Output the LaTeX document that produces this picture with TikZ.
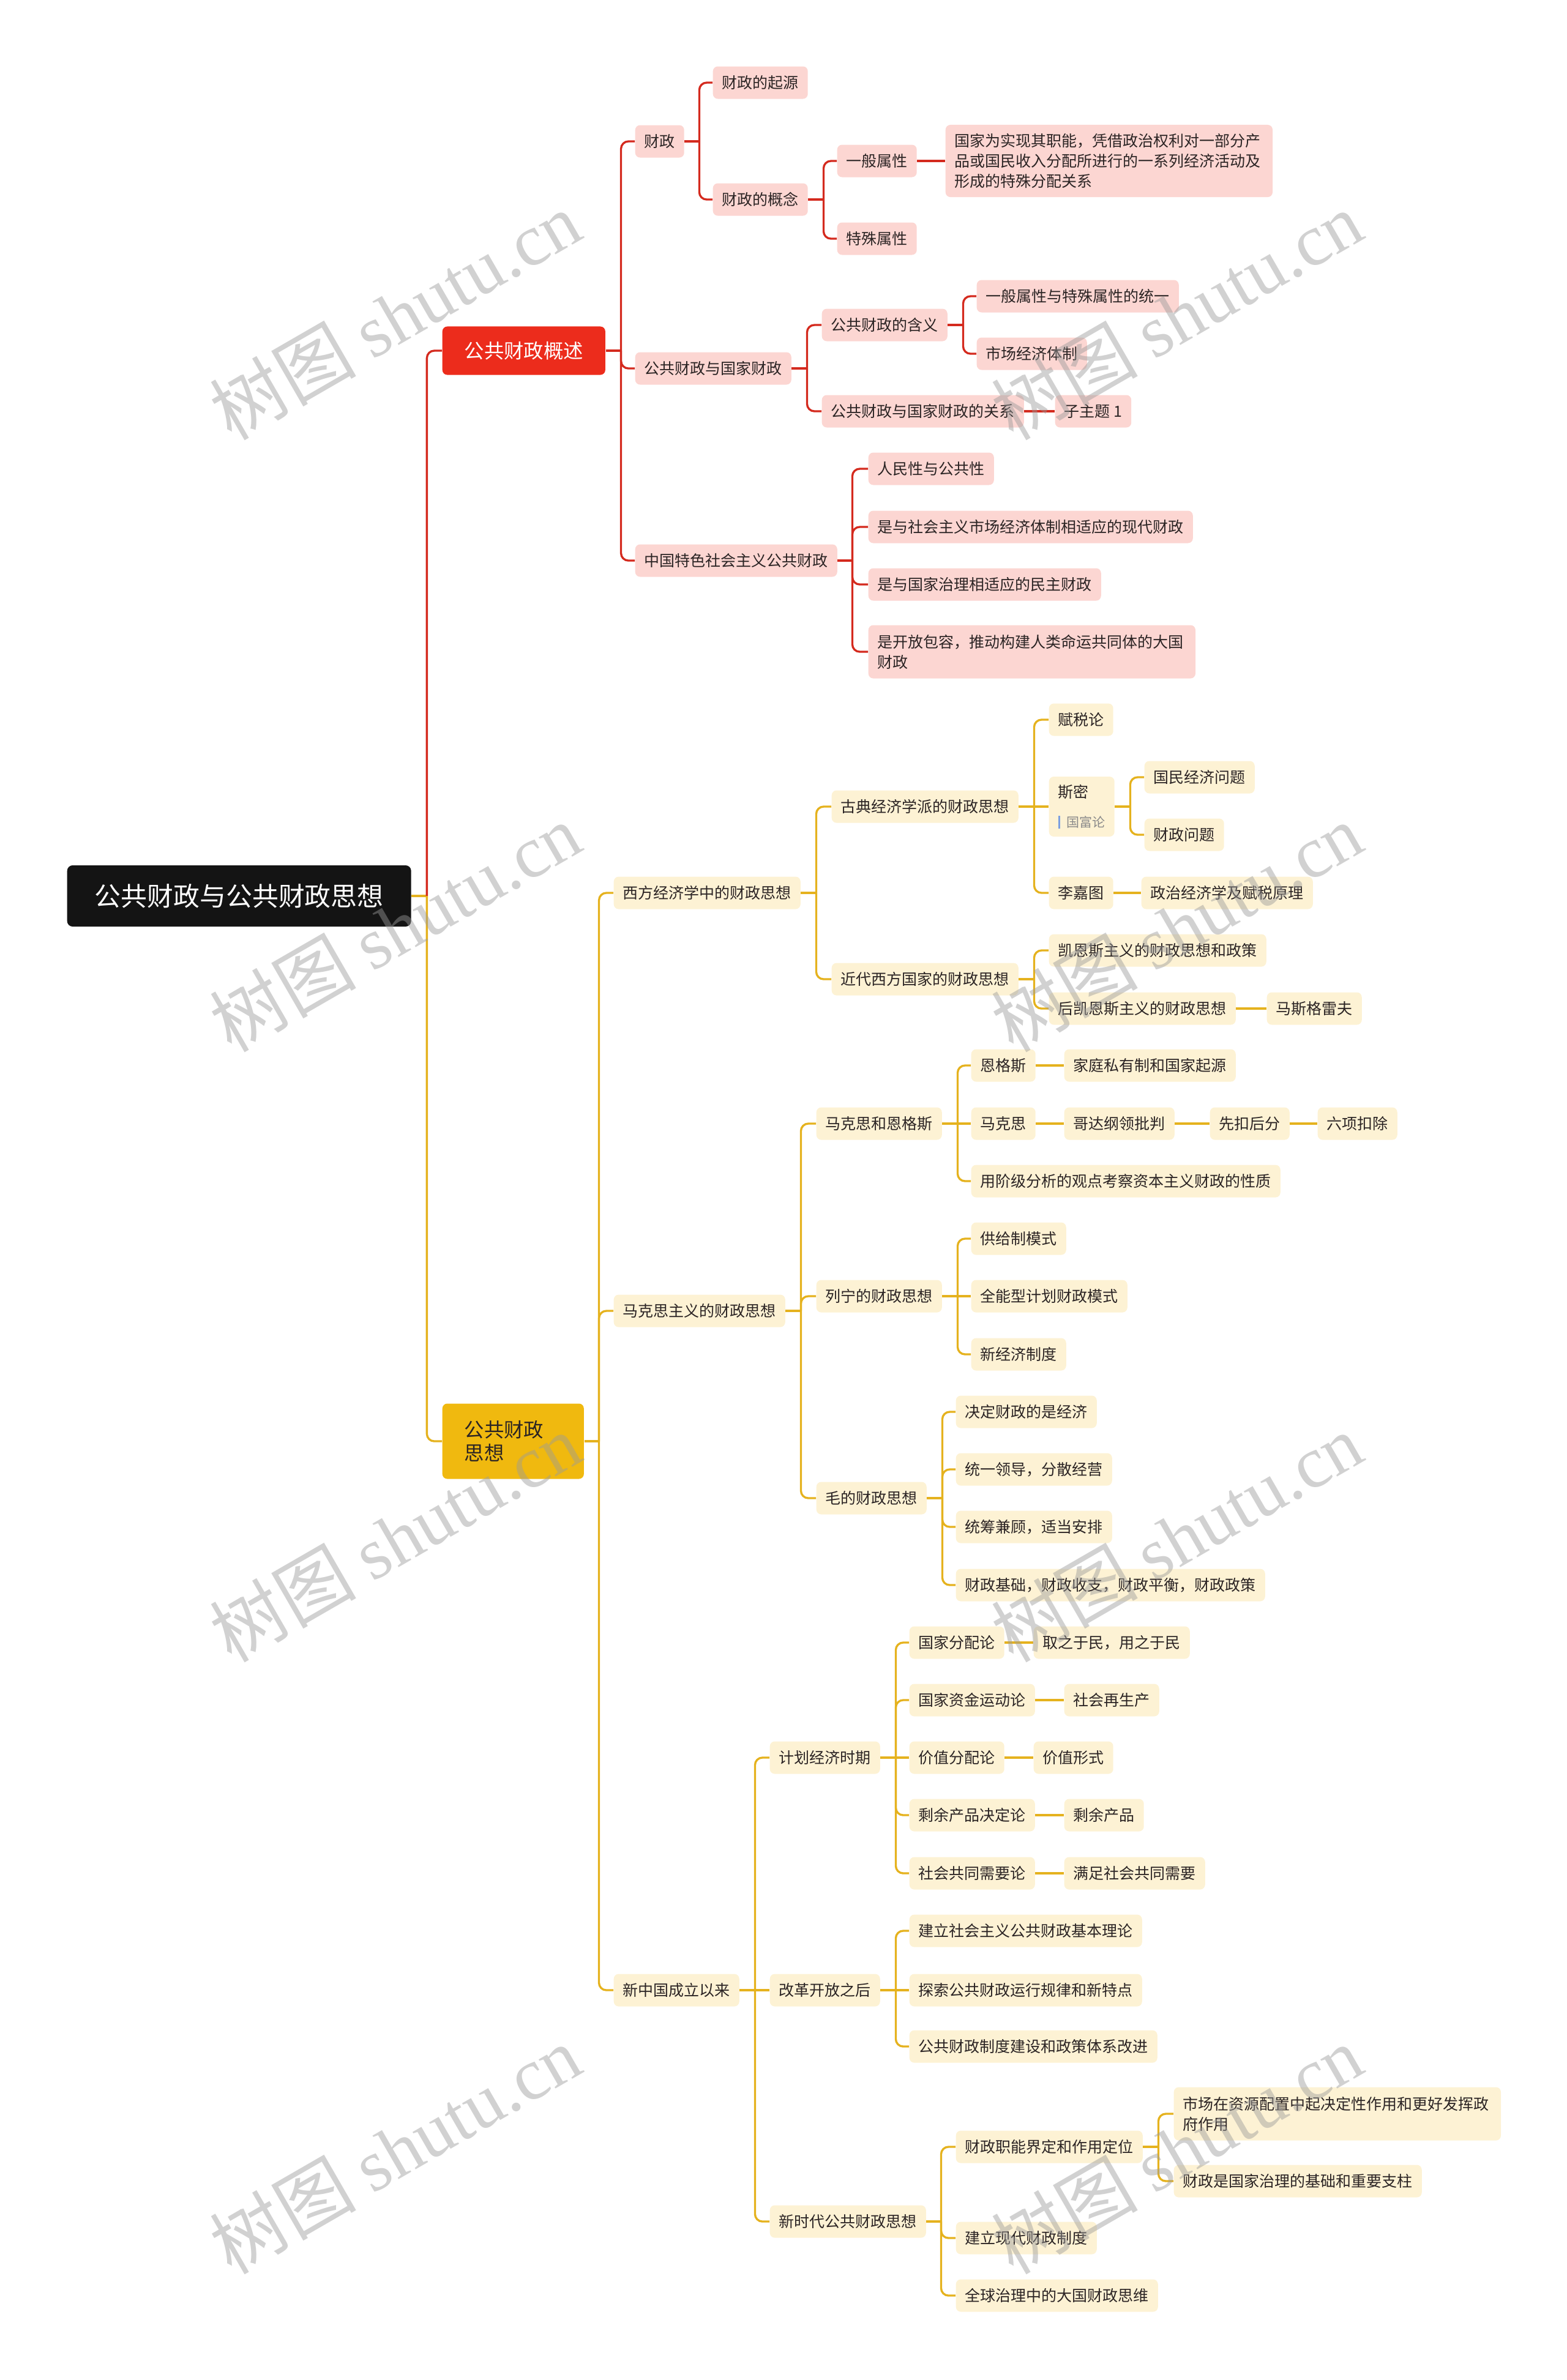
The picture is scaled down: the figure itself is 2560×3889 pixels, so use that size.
\documentclass[tikz,border=0pt]{standalone}
\usepackage{fontspec}
\setmainfont{Noto Sans CJK SC}
\newfontfamily\wmfont{Liberation Serif}
\usepackage{xcolor}
\usetikzlibrary{calc}
\definecolor{rootblack}{HTML}{141414}
\definecolor{topicred}{HTML}{EC2C1C}
\definecolor{linkred}{HTML}{D42A1E}
\definecolor{leafpink}{HTML}{FCD6D2}
\definecolor{topicyellow}{HTML}{F0B90F}
\definecolor{linkyellow}{HTML}{E5B21E}
\definecolor{leafcream}{HTML}{FDF2D4}
\definecolor{textdark}{HTML}{2B2424}
\definecolor{notebar}{HTML}{7B9FE0}
\definecolor{notegray}{HTML}{8A8A8A}
\definecolor{wmgray}{HTML}{9A9A9A}
\tikzset{%
    root box/.style={anchor=west,fill=rootblack,text=white,rounded corners=0.09cm,inner xsep=0.45cm,inner ysep=0pt,minimum height=1.0cm,font=\fontsize{12.2pt}{14pt}\selectfont},
    red topic/.style={anchor=west,fill=topicred,text=white,rounded corners=0.08cm,inner xsep=0.36cm,inner ysep=0pt,minimum height=0.79cm,font=\fontsize{9.2pt}{10.8pt}\selectfont},
    yellow topic/.style={anchor=west,fill=topicyellow,text=textdark,rounded corners=0.08cm,inner xsep=0.36cm,inner ysep=0pt,minimum height=1.23cm,text width=1.59cm,align=left,font=\fontsize{9.2pt}{10.8pt}\selectfont},
    leaf/.style={anchor=west,rounded corners=0.08cm,inner xsep=0.15cm,inner ysep=0pt,minimum height=0.53cm,text=textdark,font=\fontsize{7.11pt}{9.4pt}\selectfont},
    red leaf/.style={leaf,fill=leafpink},
    yellow leaf/.style={leaf,fill=leafcream},
    red link/.style={draw=linkred,line width=0.95pt,rounded corners=0.12cm},
    yellow link/.style={draw=linkyellow,line width=0.95pt,rounded corners=0.12cm},
    watermark/.style={rotate=30,text=wmgray,text opacity=0.45,font=\fontsize{34pt}{34pt}\selectfont},
}

\begin{document}
\begin{tikzpicture}[x=0.01cm,y=-0.01cm]
      \useasboundingbox (0,0) rectangle (2560,3889);

      % root and the two main topics
      \node[root box] (root) at (109,1464) {公共财政与公共财政思想};
      \node[red topic] (gs) at (722,573) {公共财政概述};
      \node[yellow topic] (sx) at (722,2355) {公共财政\\思想};

      % 公共财政概述
      \node[red leaf] (gs1) at (1037,231) {财政};
      \node[red leaf] (gs11) at (1164,135) {财政的起源};
      \node[red leaf] (gs12) at (1164,326) {财政的概念};
      \node[red leaf] (gs121) at (1367,263) {一般属性};
      \node[red leaf] (gs122) at (1367,390) {特殊属性};
      \node[red leaf,text width=5.04cm,align=left,minimum height=1.18cm] (gs1211) at (1544,263) {国家为实现其职能，凭借政治权利对一部分产\\品或国民收入分配所进行的一系列经济活动及\\形成的特殊分配关系};
      \node[red leaf] (gs2) at (1037,602) {公共财政与国家财政};
      \node[red leaf] (gs21) at (1342,531) {公共财政的含义};
      \node[red leaf] (gs211) at (1595,484) {一般属性与特殊属性的统一};
      \node[red leaf] (gs212) at (1595,578) {市场经济体制};
      \node[red leaf] (gs22) at (1342,672) {公共财政与国家财政的关系};
      \node[red leaf] (gs221) at (1723,672) {子主题 1};
      \node[red leaf] (gs3) at (1037,916) {中国特色社会主义公共财政};
      \node[red leaf] (gs31) at (1418,766) {人民性与公共性};
      \node[red leaf] (gs32) at (1418,861) {是与社会主义市场经济体制相适应的现代财政};
      \node[red leaf] (gs33) at (1418,955) {是与国家治理相适应的民主财政};
      \node[red leaf,text width=5.04cm,align=left,minimum height=0.87cm] (gs34) at (1418,1065) {是开放包容，推动构建人类命运共同体的大国\\财政};

      % 西方经济学
      \node[yellow leaf] (sx1) at (1002,1459) {西方经济学中的财政思想};
      \node[yellow leaf] (sx11) at (1358,1318) {古典经济学派的财政思想};
      \node[yellow leaf] (sx111) at (1713,1176) {赋税论};
      \node[yellow leaf,align=left,minimum height=0.98cm] (sx112) at (1713,1318) {斯密\\[0.15cm]{\color{notebar}\rule[-0.025cm]{0.03cm}{0.21cm}}\hspace{0.11cm}{\fontsize{5.97pt}{7pt}\selectfont\color{notegray}国富论}};
      \node[yellow leaf] (sx1121) at (1869,1270) {国民经济问题};
      \node[yellow leaf] (sx1122) at (1869,1364) {财政问题};
      \node[yellow leaf] (sx113) at (1713,1459) {李嘉图};
      \node[yellow leaf] (sx1131) at (1864,1459) {政治经济学及赋税原理};
      \node[yellow leaf] (sx12) at (1358,1600) {近代西方国家的财政思想};
      \node[yellow leaf] (sx121) at (1713,1553) {凯恩斯主义的财政思想和政策};
      \node[yellow leaf] (sx122) at (1713,1648) {后凯恩斯主义的财政思想};
      \node[yellow leaf] (sx1221) at (2069,1648) {马斯格雷夫};

      % 马克思主义
      \node[yellow leaf] (sx2) at (1002,2142) {马克思主义的财政思想};
      \node[yellow leaf] (sx21) at (1333,1836) {马克思和恩格斯};
      \node[yellow leaf] (sx211) at (1586,1741) {恩格斯};
      \node[yellow leaf] (sx2111) at (1738,1741) {家庭私有制和国家起源};
      \node[yellow leaf] (sx212) at (1586,1836) {马克思};
      \node[yellow leaf] (sx2121) at (1738,1836) {哥达纲领批判};
      \node[yellow leaf] (sx2122) at (1976,1836) {先扣后分};
      \node[yellow leaf] (sx2123) at (2152,1836) {六项扣除};
      \node[yellow leaf] (sx213) at (1586,1930) {用阶级分析的观点考察资本主义财政的性质};
      \node[yellow leaf] (sx22) at (1333,2118) {列宁的财政思想};
      \node[yellow leaf] (sx221) at (1586,2024) {供给制模式};
      \node[yellow leaf] (sx222) at (1586,2118) {全能型计划财政模式};
      \node[yellow leaf] (sx223) at (1586,2213) {新经济制度};
      \node[yellow leaf] (sx23) at (1333,2448) {毛的财政思想};
      \node[yellow leaf] (sx231) at (1561,2307) {决定财政的是经济};
      \node[yellow leaf] (sx232) at (1561,2401) {统一领导，分散经营};
      \node[yellow leaf] (sx233) at (1561,2495) {统筹兼顾，适当安排};
      \node[yellow leaf] (sx234) at (1561,2590) {财政基础，财政收支，财政平衡，财政政策};

      % 新中国
      \node[yellow leaf] (sx3) at (1002,3252) {新中国成立以来};
      \node[yellow leaf] (sx31) at (1257,2872) {计划经济时期};
      \node[yellow leaf] (sx311) at (1485,2684) {国家分配论};
      \node[yellow leaf] (sx3111) at (1688,2684) {取之于民，用之于民};
      \node[yellow leaf] (sx312) at (1485,2778) {国家资金运动论};
      \node[yellow leaf] (sx3121) at (1738,2778) {社会再生产};
      \node[yellow leaf] (sx313) at (1485,2872) {价值分配论};
      \node[yellow leaf] (sx3131) at (1688,2872) {价值形式};
      \node[yellow leaf] (sx314) at (1485,2966) {剩余产品决定论};
      \node[yellow leaf] (sx3141) at (1738,2966) {剩余产品};
      \node[yellow leaf] (sx315) at (1485,3061) {社会共同需要论};
      \node[yellow leaf] (sx3151) at (1738,3061) {满足社会共同需要};
      \node[yellow leaf] (sx32) at (1257,3252) {改革开放之后};
      \node[yellow leaf] (sx321) at (1485,3155) {建立社会主义公共财政基本理论};
      \node[yellow leaf] (sx322) at (1485,3252) {探索公共财政运行规律和新特点};
      \node[yellow leaf] (sx323) at (1485,3344) {公共财政制度建设和政策体系改进};
      \node[yellow leaf] (sx33) at (1257,3630) {新时代公共财政思想};
      \node[yellow leaf] (sx331) at (1561,3508) {财政职能界定和作用定位};
      \node[yellow leaf,text width=5.04cm,align=left,minimum height=0.87cm] (sx3311) at (1917,3454) {市场在资源配置中起决定性作用和更好发挥政\\府作用};
      \node[yellow leaf] (sx3312) at (1917,3564) {财政是国家治理的基础和重要支柱};
      \node[yellow leaf] (sx332) at (1561,3657) {建立现代财政制度};
      \node[yellow leaf] (sx333) at (1561,3751) {全球治理中的大国财政思维};

      % connectors, red side
      \draw[yellow link] (root.east) -- ++(25,0) coordinate (root-t);
      \draw[red link] (root-t) |- (gs.west);
      \draw[yellow link] (root-t) |- (sx.west);
      \draw[red link] (gs.east) -- ++(25,0) coordinate (gs-t);
      \draw[red link] (gs-t) |- (gs1.west);
      \draw[red link] (gs-t) |- (gs2.west);
      \draw[red link] (gs-t) |- (gs3.west);
      \draw[red link] (gs1.east) -- ++(24,0) coordinate (gs1-t);
      \draw[red link] (gs1-t) |- (gs11.west);
      \draw[red link] (gs1-t) |- (gs12.west);
      \draw[red link] (gs12.east) -- ++(25,0) coordinate (gs12-t);
      \draw[red link] (gs12-t) |- (gs121.west);
      \draw[red link] (gs12-t) |- (gs122.west);
      \draw[red link] (gs121.east) -- (gs1211.west);
      \draw[red link] (gs2.east) -- ++(25,0) coordinate (gs2-t);
      \draw[red link] (gs2-t) |- (gs21.west);
      \draw[red link] (gs2-t) |- (gs22.west);
      \draw[red link] (gs21.east) -- ++(25,0) coordinate (gs21-t);
      \draw[red link] (gs21-t) |- (gs211.west);
      \draw[red link] (gs21-t) |- (gs212.west);
      \draw[red link] (gs22.east) -- (gs221.west);
      \draw[red link] (gs3.east) -- ++(24,0) coordinate (gs3-t);
      \draw[red link] (gs3-t) |- (gs31.west);
      \draw[red link] (gs3-t) |- (gs32.west);
      \draw[red link] (gs3-t) |- (gs33.west);
      \draw[red link] (gs3-t) |- (gs34.west);

      % connectors, yellow side
      \draw[yellow link] (sx.east) -- ++(24,0) coordinate (sx-t);
      \draw[yellow link] (sx-t) |- (sx1.west);
      \draw[yellow link] (sx-t) |- (sx2.west);
      \draw[yellow link] (sx-t) |- (sx3.west);
      \draw[yellow link] (sx1.east) -- ++(25,0) coordinate (sx1-t);
      \draw[yellow link] (sx1-t) |- (sx11.west);
      \draw[yellow link] (sx1-t) |- (sx12.west);
      \draw[yellow link] (sx11.east) -- ++(25,0) coordinate (sx11-t);
      \draw[yellow link] (sx11-t) |- (sx111.west);
      \draw[yellow link] (sx11-t) -- (sx112.west);
      \draw[yellow link] (sx11-t) |- (sx113.west);
      \draw[yellow link] (sx112.east) -- ++(25,0) coordinate (sx112-t);
      \draw[yellow link] (sx112-t) |- (sx1121.west);
      \draw[yellow link] (sx112-t) |- (sx1122.west);
      \draw[yellow link] (sx113.east) -- (sx1131.west);
      \draw[yellow link] (sx12.east) -- ++(25,0) coordinate (sx12-t);
      \draw[yellow link] (sx12-t) |- (sx121.west);
      \draw[yellow link] (sx12-t) |- (sx122.west);
      \draw[yellow link] (sx122.east) -- (sx1221.west);
      \draw[yellow link] (sx2.east) -- ++(25,0) coordinate (sx2-t);
      \draw[yellow link] (sx2-t) |- (sx21.west);
      \draw[yellow link] (sx2-t) |- (sx22.west);
      \draw[yellow link] (sx2-t) |- (sx23.west);
      \draw[yellow link] (sx21.east) -- ++(25,0) coordinate (sx21-t);
      \draw[yellow link] (sx21-t) |- (sx211.west);
      \draw[yellow link] (sx21-t) -- (sx212.west);
      \draw[yellow link] (sx21-t) |- (sx213.west);
      \draw[yellow link] (sx211.east) -- (sx2111.west);
      \draw[yellow link] (sx212.east) -- (sx2121.west);
      \draw[yellow link] (sx2121.east) -- (sx2122.west);
      \draw[yellow link] (sx2122.east) -- (sx2123.west);
      \draw[yellow link] (sx22.east) -- ++(25,0) coordinate (sx22-t);
      \draw[yellow link] (sx22-t) |- (sx221.west);
      \draw[yellow link] (sx22-t) -- (sx222.west);
      \draw[yellow link] (sx22-t) |- (sx223.west);
      \draw[yellow link] (sx23.east) -- ++(25,0) coordinate (sx23-t);
      \draw[yellow link] (sx23-t) |- (sx231.west);
      \draw[yellow link] (sx23-t) |- (sx232.west);
      \draw[yellow link] (sx23-t) |- (sx233.west);
      \draw[yellow link] (sx23-t) |- (sx234.west);
      \draw[yellow link] (sx3.east) -- ++(25,0) coordinate (sx3-t);
      \draw[yellow link] (sx3-t) |- (sx31.west);
      \draw[yellow link] (sx3-t) -- (sx32.west);
      \draw[yellow link] (sx3-t) |- (sx33.west);
      \draw[yellow link] (sx31.east) -- ++(25,0) coordinate (sx31-t);
      \draw[yellow link] (sx31-t) |- (sx311.west);
      \draw[yellow link] (sx31-t) |- (sx312.west);
      \draw[yellow link] (sx31-t) -- (sx313.west);
      \draw[yellow link] (sx31-t) |- (sx314.west);
      \draw[yellow link] (sx31-t) |- (sx315.west);
      \draw[yellow link] (sx311.east) -- (sx3111.west);
      \draw[yellow link] (sx312.east) -- (sx3121.west);
      \draw[yellow link] (sx313.east) -- (sx3131.west);
      \draw[yellow link] (sx314.east) -- (sx3141.west);
      \draw[yellow link] (sx315.east) -- (sx3151.west);
      \draw[yellow link] (sx32.east) -- ++(25,0) coordinate (sx32-t);
      \draw[yellow link] (sx32-t) |- (sx321.west);
      \draw[yellow link] (sx32-t) -- (sx322.west);
      \draw[yellow link] (sx32-t) |- (sx323.west);
      \draw[yellow link] (sx33.east) -- ++(24,0) coordinate (sx33-t);
      \draw[yellow link] (sx33-t) |- (sx331.west);
      \draw[yellow link] (sx33-t) |- (sx332.west);
      \draw[yellow link] (sx33-t) |- (sx333.west);
      \draw[yellow link] (sx331.east) -- ++(25,0) coordinate (sx331-t);
      \draw[yellow link] (sx331-t) |- (sx3311.west);
      \draw[yellow link] (sx331-t) |- (sx3312.west);

      % watermarks
      \node[watermark] (wm1) at (645,515) {树图 {\wmfont shutu.cn}};
      \node[watermark] (wm2) at (1922,515) {树图 {\wmfont shutu.cn}};
      \node[watermark] (wm3) at (645,1515) {树图 {\wmfont shutu.cn}};
      \node[watermark] (wm4) at (1922,1515) {树图 {\wmfont shutu.cn}};
      \node[watermark] (wm5) at (645,2512) {树图 {\wmfont shutu.cn}};
      \node[watermark] (wm6) at (1922,2512) {树图 {\wmfont shutu.cn}};
      \node[watermark] (wm7) at (645,3512) {树图 {\wmfont shutu.cn}};
      \node[watermark] (wm8) at (1922,3512) {树图 {\wmfont shutu.cn}};
    \end{tikzpicture}
\end{document}
